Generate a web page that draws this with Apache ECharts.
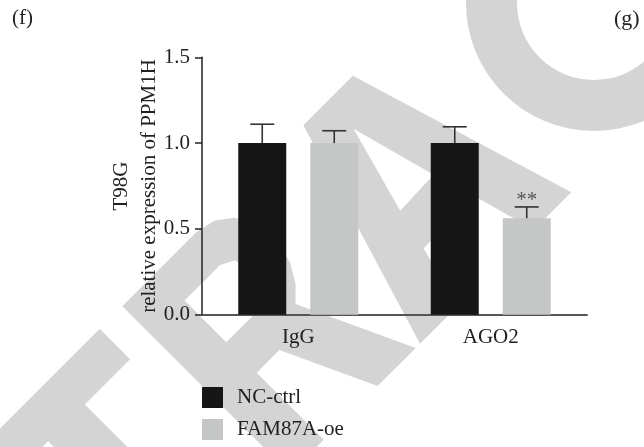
<!DOCTYPE html>
<html><head><meta charset="utf-8">
<script src="https://cdn.jsdelivr.net/npm/echarts@6/dist/echarts.min.js"></script>
<style>html,body{margin:0;padding:0;background:#fff}#c{width:644px;height:447px}</style>
</head><body><div id="c"></div>
<script>
// ---- data ----
const categories = ['IgG', 'AGO2'];
const seriesNames = ['NC-ctrl', 'FAM87A-oe'];
const ncMean = [1.0, 1.0];
const ncErrTop = [1.11, 1.095];
const oeMean = [1.0, 0.562];
const oeErrTop = [1.072, 0.628];
const oeStars = ['', '**'];
const yMin = 0, yMax = 1.5, yStep = 0.5;
const yTitle = 'T98G\nrelative expression of PPM1H';
const panelLeft = '(f)', panelRight = '(g)';

// ---- style ----
const FONT = 'Liberation Serif';
const TXT = '#222';
const C_NC = '#161616';
const C_OE = '#c5c7c6';
const BAR_W = 48;
const BAR_OFF = 36; // half of (barWidth + barGap)
const WM = '#d4d4d4';

// watermark ("RETRACTED", rotated 45deg) - shapes in upright letter space
const S2 = Math.SQRT2;
function tf(p) { return [(p[0] + p[1]) / S2, (p[1] - p[0]) / S2]; }
const wmT = [[-342,303],[-162,303],[-162,346],[-226,346],[-226,540],[-278,540],[-278,346],[-342,346]];
const wmR = [[-130,303],[-25,303],[-4,308],[12,320],[22,340],[25,365],[20,390],[8,410],[-6,424],[48,540],[-6,540],[-50,445],[-82,445],[-82,540],[-130,540]];
const wmRhole = [[-82,343],[-32,343],[-18,350],[-12,372],[-18,393],[-32,402],[-82,402]];
const wmA = [[126,303],[196,303],[268,540],[215,540],[197,475],[124,475],[107,540],[54,540]];
const wmAhole = [[159,341],[183,430],[134,432]];

const wmGraphics = [
  {type:'polygon', z:-10, silent:true, shape:{points: wmT.map(tf)}, style:{fill:WM}},
  {type:'polygon', z:-10, silent:true, shape:{points: wmR.map(tf)}, style:{fill:WM}},
  {type:'polygon', z:-9, silent:true, shape:{points: wmRhole.map(tf)}, style:{fill:'#fff'}},
  {type:'polygon', z:-10, silent:true, shape:{points: wmA.map(tf)}, style:{fill:WM}},
  {type:'polygon', z:-9, silent:true, shape:{points: wmAhole.map(tf)}, style:{fill:'#fff'}},
  {type:'ring', z:-10, silent:true, shape:{cx:594, cy:3, r:128, r0:77}, style:{fill:WM}},
  {type:'text', left:12, top:8, style:{text:panelLeft, font:'21px ' + FONT, fill:TXT}},
  {type:'text', left:614, top:8, style:{text:panelRight, font:'22px ' + FONT, fill:TXT}}
];

function errItem(offset, stars) {
  return function (params, api) {
    const i = api.value(0);
    const mean = api.value(1), top = api.value(2);
    const pBase = api.coord([i, mean]);
    const pTop = api.coord([i, top]);
    const x = pBase[0] + offset;
    const cap = 12;
    const children = [
      {type:'line', shape:{x1:x, y1:pBase[1], x2:x, y2:pTop[1]}, style:{stroke:'#333', lineWidth:1.6}},
      {type:'line', shape:{x1:x - cap, y1:pTop[1], x2:x + cap, y2:pTop[1]}, style:{stroke:'#333', lineWidth:1.6}}
    ];
    if (stars && stars[i]) {
      children.push({type:'text', style:{text:stars[i], x:x, y:pTop[1] + 4, align:'center', verticalAlign:'bottom', font:'21px ' + FONT, fill:'#555'}});
    }
    return {type:'group', children};
  };
}

const chart = echarts.init(document.getElementById('c'), null, {renderer:'canvas'});
chart.setOption({
  animation:false,
  backgroundColor:'#fff',
  graphic: wmGraphics,
  grid:{left:202, right:57, top:57.3, bottom:132.3},
  legend:{
    data: seriesNames, orient:'vertical', left:202, top:387, padding:0,
    itemWidth:21, itemHeight:21, itemGap:11, icon:'rect',
    textStyle:{fontFamily:FONT, fontSize:21, color:TXT, padding:[0,0,0,9]}
  },
  xAxis:{
    type:'category', data:categories,
    axisLine:{lineStyle:{color:'#555', width:2}},
    axisTick:{alignWithLabel:true, length:7, lineStyle:{color:'#555', width:1.5}},
    axisLabel:{fontFamily:FONT, fontSize:21, color:TXT, margin:12}
  },
  yAxis:{
    type:'value', min:yMin, max:yMax, interval:yStep,
    name: yTitle, nameLocation:'middle', nameRotate:90, nameGap:38, nameMoveOverlap:false,
    nameTextStyle:{fontFamily:FONT, fontSize:21, color:TXT, lineHeight:28.5},
    axisLine:{show:true, lineStyle:{color:'#222', width:1.5}},
    axisTick:{show:true, length:7, lineStyle:{color:'#222', width:1.5}},
    splitLine:{show:false},
    axisLabel:{fontFamily:FONT, fontSize:21, color:TXT, margin:12, formatter:v => v.toFixed(1)}
  },
  series:[
    {name:seriesNames[0], type:'bar', data:ncMean, barWidth:BAR_W, barGap:'50%', itemStyle:{color:C_NC}, z:2},
    {name:seriesNames[1], type:'bar', data:oeMean, barWidth:BAR_W, barGap:'50%', itemStyle:{color:C_OE}, z:2},
    {type:'custom', z:3, renderItem: errItem(-BAR_OFF, null), data: categories.map((c,i)=>[i, ncMean[i], ncErrTop[i]])},
    {type:'custom', z:3, renderItem: errItem(BAR_OFF, oeStars), data: categories.map((c,i)=>[i, oeMean[i], oeErrTop[i]])}
  ]
});
</script></body></html>
